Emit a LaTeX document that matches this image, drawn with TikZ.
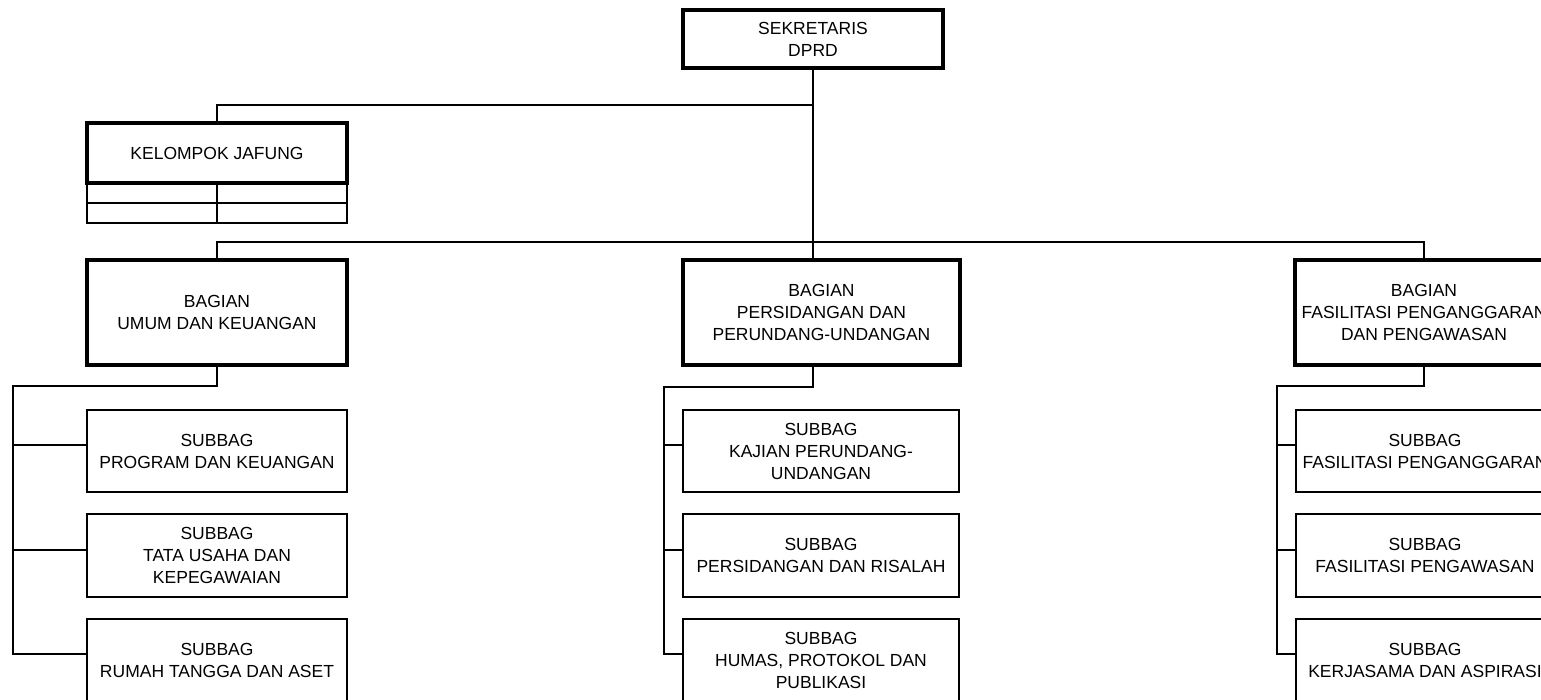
\documentclass[tikz,border=0pt]{standalone}
\usepackage{fontspec}
\setmainfont{Liberation Sans}
\begin{document}
\begin{tikzpicture}[x=1pt,y=-1pt,
  box/.style={draw, line width=2pt, rectangle, inner sep=0pt, align=center,
    font=\fontsize{17.5}{22}\selectfont},
  bigbox/.style={box, line width=4pt},
  conn/.style={line width=2pt},
  cell/.style={draw, line width=2pt, rectangle, inner sep=0pt,
    minimum width=130pt, minimum height=20pt}]
\useasboundingbox (0,0) rectangle (1541,700);
\clip (0,0) rectangle (1541,700);
% top
\node[bigbox, minimum width=260pt, minimum height=58pt] (sek) at (813,39) {SEKRETARIS\\DPRD};
\node[bigbox, minimum width=260pt, minimum height=60pt] (jaf) at (217,153) {KELOMPOK JAFUNG};
\node[cell] (c11) at (152,193) {};
\node[cell] (c12) at (282,193) {};
\node[cell] (c21) at (152,213) {};
\node[cell] (c22) at (282,213) {};
% bagian
\node[bigbox, minimum width=260pt, minimum height=105pt] (bag1) at (217,312.5) {BAGIAN\\UMUM DAN KEUANGAN};
\node[bigbox, minimum width=277pt, minimum height=105pt] (bag2) at (821.5,312.5) {BAGIAN\\PERSIDANGAN DAN\\PERUNDANG-UNDANGAN};
\node[bigbox, minimum width=258pt, minimum height=105pt] (bag3) at (1424,312.5) {BAGIAN\\FASILITASI PENGANGGARAN\\DAN PENGAWASAN};
% subbag left
\node[box, minimum width=260pt, minimum height=82pt] (s11) at (217,451) {SUBBAG\\PROGRAM DAN KEUANGAN};
\node[box, minimum width=260pt, minimum height=83pt] (s12) at (217,555.5) {SUBBAG\\TATA USAHA DAN\\KEPEGAWAIAN};
\node[box, minimum width=260pt, minimum height=82pt] (s13) at (217,660) {SUBBAG\\RUMAH TANGGA DAN ASET};
% subbag middle
\node[box, minimum width=276pt, minimum height=82pt] (s21) at (821,451) {SUBBAG\\KAJIAN PERUNDANG-\\UNDANGAN};
\node[box, minimum width=276pt, minimum height=83pt] (s22) at (821,555.5) {SUBBAG\\PERSIDANGAN DAN RISALAH};
\node[box, minimum width=276pt, minimum height=82pt] (s23) at (821,660) {SUBBAG\\HUMAS, PROTOKOL DAN\\PUBLIKASI};
% subbag right
\node[box, minimum width=258pt, minimum height=82pt] (s31) at (1425,451) {SUBBAG\\FASILITASI PENGANGGARAN};
\node[box, minimum width=258pt, minimum height=83pt] (s32) at (1425,555.5) {SUBBAG\\FASILITASI PENGAWASAN};
\node[box, minimum width=258pt, minimum height=82pt] (s33) at (1425,660) {SUBBAG\\KERJASAMA DAN ASPIRASI};
% connectors top
\coordinate (j1) at (813,105);
\coordinate (j2) at (813,242);
\draw[conn] (sek.south) -- (j2 |- bag2.north);
\draw[conn] (j1) -| (jaf.north);
\draw[conn] (bag1.north) |- (j2) -| (bag3.north);
% left column
\coordinate (l1) at (13,386);
\foreach \s in {s11,s12,s13,s21,s22,s23,s31,s32,s33}{\coordinate (\s a) at ([yshift=6pt]\s.west);}
\draw[conn] (bag1.south) |- (l1) |- (s13a);
\draw[conn] (l1 |- s11a) -- (s11a);
\draw[conn] (l1 |- s12a) -- (s12a);
% middle column
\coordinate (m1) at (664,387);
\draw[conn] (j2 |- bag2.south) |- (m1) |- (s23a);
\draw[conn] (m1 |- s21a) -- (s21a);
\draw[conn] (m1 |- s22a) -- (s22a);
% right column
\coordinate (r1) at (1277,386);
\draw[conn] (bag3.south) |- (r1) |- (s33a);
\draw[conn] (r1 |- s31a) -- (s31a);
\draw[conn] (r1 |- s32a) -- (s32a);
\end{tikzpicture}
\end{document}
